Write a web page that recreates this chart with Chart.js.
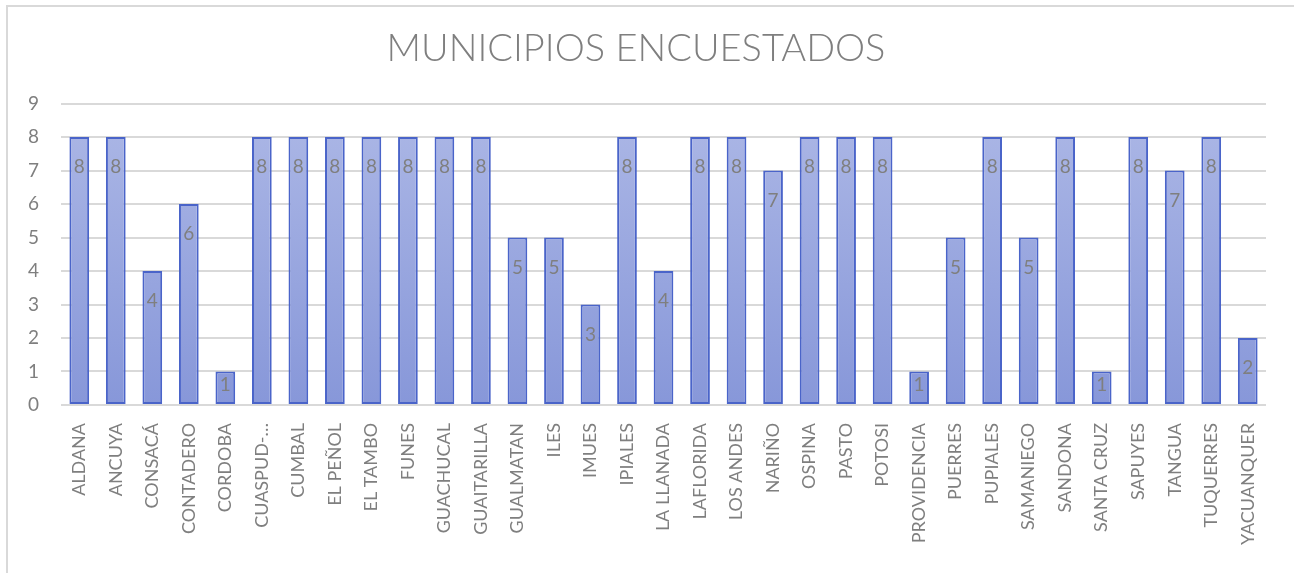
<!DOCTYPE html>
<html>
<head>
<meta charset="utf-8">
<script src="https://cdn.jsdelivr.net/npm/chart.js@4.4.0/dist/chart.umd.min.js"></script>
<style>
  html, body { margin: 0; padding: 0; background: #fff; }
  #frame { position: absolute; left: 6px; top: 5px; width: 1300px; height: 580px;
           border-left: 2px solid #d9d9d9; border-top: 2px solid #d9d9d9; }
  #wrap { position: absolute; left: 0; top: 0; width: 1294px; height: 573px; }
</style>
</head>
<body>
<div id="frame"></div>
<div id="wrap"><canvas id="myChart"></canvas></div>
<script>
const municipios = ['ALDANA', 'ANCUYA', 'CONSACÁ', 'CONTADERO', 'CORDOBA', 'CUASPUD-…', 'CUMBAL',
  'EL PEÑOL', 'EL TAMBO', 'FUNES', 'GUACHUCAL', 'GUAITARILLA', 'GUALMATAN', 'ILES', 'IMUES',
  'IPIALES', 'LA LLANADA', 'LAFLORIDA', 'LOS ANDES', 'NARIÑO', 'OSPINA', 'PASTO', 'POTOSI',
  'PROVIDENCIA', 'PUERRES', 'PUPIALES', 'SAMANIEGO', 'SANDONA', 'SANTA CRUZ', 'SAPUYES',
  'TANGUA', 'TUQUERRES', 'YACUANQUER'];
const encuestas = [8, 8, 4, 6, 1, 8, 8, 8, 8, 8, 8, 8, 5, 5, 3, 8, 4, 8, 8, 7, 8, 8, 8, 1, 5, 8, 5, 8, 1, 8, 7, 8, 2];
const yTicks = [0, 1, 2, 3, 4, 5, 6, 7, 8, 9];

const gray = '#7f7f7f';

// etiquetas dentro del extremo de cada barra
const valueLabels = {
  id: 'valueLabels',
  afterDatasetsDraw(chart) {
    const c = chart.ctx;
    const meta = chart.getDatasetMeta(0);
    c.save();
    c.font = '19px Lato, "Noto Sans", sans-serif';
    c.fillStyle = gray;
    c.textAlign = 'center';
    c.textBaseline = 'middle';
    meta.data.forEach((bar, i) => {
      const y = Math.min(bar.y + 30, (bar.y + bar.base) / 2 - 3);
      c.fillText(String(encuestas[i]), bar.x, y);
    });
    c.restore();
  }
};

const ctx = document.getElementById('myChart');
new Chart(ctx, {
  type: 'bar',
  data: {
    labels: municipios,
    datasets: [{
      label: 'Municipios encuestados',
      data: encuestas,
      backgroundColor(context) {
        const area = context.chart.chartArea;
        if (!area) return '#98a6df';
        const g = context.chart.ctx.createLinearGradient(0, area.top, 0, area.bottom);
        g.addColorStop(0, '#adb8e6');
        g.addColorStop(1, '#8797d9');
        return g;
      },
      borderColor: '#4a64c9',
      borderWidth: 2,
      borderSkipped: false,
      barPercentage: 0.54,
      categoryPercentage: 1.0
    }]
  },
  options: {
    responsive: true,
    maintainAspectRatio: false,
    animation: false,
    layout: { padding: { left: 6, right: 28, top: 20, bottom: 18 } },
    plugins: {
      legend: { display: false },
      tooltip: { enabled: false },
      title: {
        display: true,
        text: 'MUNICIPIOS ENCUESTADOS',
        color: gray,
        font: { family: 'Lato, "Noto Sans", sans-serif', size: 38, weight: '300' },
        padding: { top: 6, bottom: 32 }
      }
    },
    scales: {
      x: {
        grid: { display: false },
        border: { display: false },
        ticks: {
          color: gray,
          font: { family: 'Lato, "Noto Sans", sans-serif', size: 18 },
          maxRotation: 90,
          minRotation: 90,
          autoSkip: false,
          padding: 10
        }
      },
      y: {
        min: 0,
        max: 9,
        afterBuildTicks(axis) { axis.ticks = yTicks.map(v => ({ value: v })); },
        grid: { color: '#d9d9d9', lineWidth: 2, drawTicks: false },
        border: { display: false },
        ticks: {
          color: gray,
          font: { family: 'Lato, "Noto Sans", sans-serif', size: 19 },
          padding: 22
        }
      }
    }
  },
  plugins: [valueLabels]
});
</script>
</body>
</html>
